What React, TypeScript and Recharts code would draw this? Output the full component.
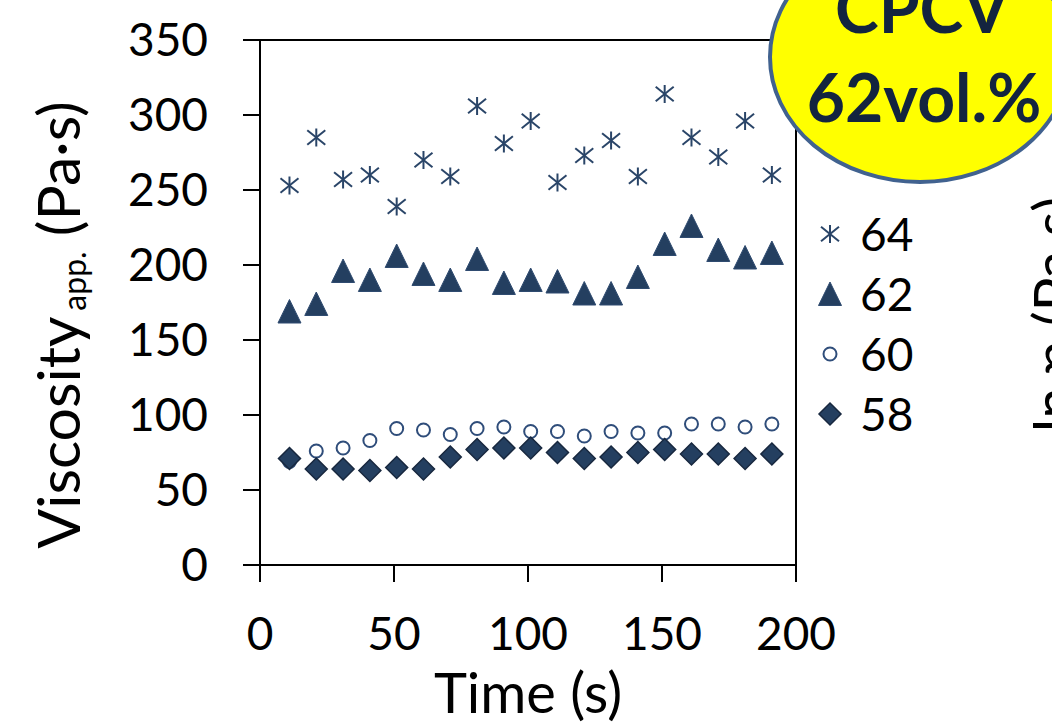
import { ScatterChart, Scatter, XAxis, YAxis, ReferenceLine, Legend } from "recharts";

const TIME = [11, 21, 31, 41, 51, 61, 71, 81, 91, 101, 111, 121, 131, 141, 151, 161, 171, 181, 191];
const V64 = [253, 285, 257, 260, 239, 270, 259, 306, 281, 296, 255, 273, 283, 259, 314, 285, 272, 296, 260];
const V62 = [169, 174, 196, 190, 206, 194, 190, 204, 188, 190, 189, 181, 181, 192, 214, 226, 210, 205, 208];
const V60 = [69, 76, 78, 83, 91, 90, 87, 91, 92, 89, 89, 86, 89, 88, 88, 94, 94, 92, 94];
const V58 = [71, 64, 64, 63, 65, 64, 72, 77, 78, 78, 75, 71, 72, 75, 77, 74, 74, 71, 74];
const NAMES = ["64", "62", "60", "58"];
const X_TICKS = [0, 50, 100, 150, 200];
const Y_TICKS = [0, 50, 100, 150, 200, 250, 300, 350];

const FONT = "Lato, 'Open Sans', sans-serif";
const NAVY = "#243F60";

type MP = { cx: number; cy: number };

function Star({ cx, cy }: MP) {
  const r = 9;
  return (
    <g stroke="#2a4568" strokeWidth={2}>
      <line x1={cx} y1={cy - r} x2={cx} y2={cy + r} />
      <line x1={cx - r} y1={cy - r * 0.8} x2={cx + r} y2={cy + r * 0.8} />
      <line x1={cx - r} y1={cy + r * 0.8} x2={cx + r} y2={cy - r * 0.8} />
    </g>
  );
}

function Tri({ cx, cy }: MP) {
  return (
    <polygon
      points={`${cx},${cy - 12} ${cx + 11.5},${cy + 11.5} ${cx - 11.5},${cy + 11.5}`}
      fill={NAVY}
      stroke="#2f4b70"
      strokeWidth={1}
    />
  );
}

function Ring({ cx, cy }: MP) {
  return <circle cx={cx} cy={cy} r={6.5} fill="#fff" stroke="#2f4d7a" strokeWidth={2} />;
}

function Diamond({ cx, cy }: MP) {
  return (
    <polygon
      points={`${cx},${cy - 11} ${cx + 11},${cy} ${cx},${cy + 11} ${cx - 11},${cy}`}
      fill={NAVY}
      stroke="#18283f"
      strokeWidth={1.5}
    />
  );
}

const toPoints = (vals: number[]) => TIME.map((t, i) => ({ x: t, y: vals[i] }));

const SERIES = [
  { name: NAMES[0], data: toPoints(V64), Marker: Star },
  { name: NAMES[1], data: toPoints(V62), Marker: Tri },
  { name: NAMES[2], data: toPoints(V60), Marker: Ring },
  { name: NAMES[3], data: toPoints(V58), Marker: Diamond },
];

function LegendBox() {
  return (
    <div style={{ fontFamily: FONT, fontSize: 46, color: "#000" }}>
      {SERIES.map(({ name, Marker }) => (
        <div key={name} style={{ display: "flex", alignItems: "center", height: 60 }}>
          <svg width={30} height={30} style={{ marginRight: 15 }}>
            <Marker cx={15} cy={15} />
          </svg>
          <span style={{ lineHeight: "60px" }}>{name}</span>
        </div>
      ))}
    </div>
  );
}

function YTitle() {
  return (
    <text
      x={80}
      y={325}
      transform="rotate(-90, 80, 325)"
      textAnchor="middle"
      fontFamily={FONT}
      fontSize={59}
      fill="#000"
    >
      Viscosity
      <tspan fontSize={32} dy={6} dx={6}>app.</tspan>
      <tspan dy={-6}> (Pa·s)</tspan>
    </text>
  );
}

export default function App() {
  const axisStroke = { stroke: "#000", strokeWidth: 2 };
  return (
    <div style={{ position: "absolute", left: 0, top: 0, width: 1052, height: 723, background: "#fff", overflow: "hidden" }}>
      <ScatterChart width={1052} height={723} margin={{ top: 40, right: 256, bottom: 0, left: 0 }}>
        <XAxis
          type="number"
          dataKey="x"
          domain={[0, 200]}
          ticks={X_TICKS}
          height={158}
          tickSize={17}
          tickMargin={35}
          axisLine={axisStroke}
          tickLine={axisStroke}
          tick={{ fontSize: 46, fill: "#000", fontFamily: FONT }}
          label={{ value: "Time (s)", position: "insideBottom", offset: 10, style: { fontSize: 56, fill: "#000", fontFamily: FONT } }}
        />
        <YAxis
          type="number"
          dataKey="y"
          domain={[0, 350]}
          ticks={Y_TICKS}
          width={260}
          tickSize={17}
          tickMargin={35}
          axisLine={axisStroke}
          tickLine={axisStroke}
          tick={{ fontSize: 46, fill: "#000", fontFamily: FONT }}
          label={{ content: () => <YTitle /> }}
        />
        <ReferenceLine y={350} stroke="#000" strokeWidth={2} />
        <ReferenceLine x={200} stroke="#000" strokeWidth={2} />
        {SERIES.map(({ name, data, Marker }) => (
          <Scatter
            key={name}
            name={name}
            data={data}
            isAnimationActive={false}
            shape={(p: any) => <Marker cx={p.cx} cy={p.cy} />}
          />
        ))}
        <Legend
          layout="vertical"
          align="center"
          verticalAlign="middle"
          content={() => <LegendBox />}
          wrapperStyle={{ position: "absolute", left: 815, top: 204, width: 140, height: 240 }}
        />
      </ScatterChart>
      <svg width={1052} height={723} style={{ position: "absolute", left: 0, top: 0, pointerEvents: "none" }}>
        <ellipse cx={920} cy={57} rx={150} ry={125} fill="#FFFF00" stroke="#41628F" strokeWidth={4} />
        <text x={922} y={33} textAnchor="middle" fontFamily={FONT} fontWeight={700} fontSize={66} fill="#13243F">CPCV</text>
        <text x={924} y={122} textAnchor="middle" fontFamily={FONT} fontWeight={700} fontSize={66} fill="#13243F">62vol.%</text>
        <text x={1074} y={432} transform="rotate(-90, 1074, 432)" fontFamily={FONT} fontSize={56} fill="#000">ln η (Pa·s)</text>
      </svg>
    </div>
  );
}
